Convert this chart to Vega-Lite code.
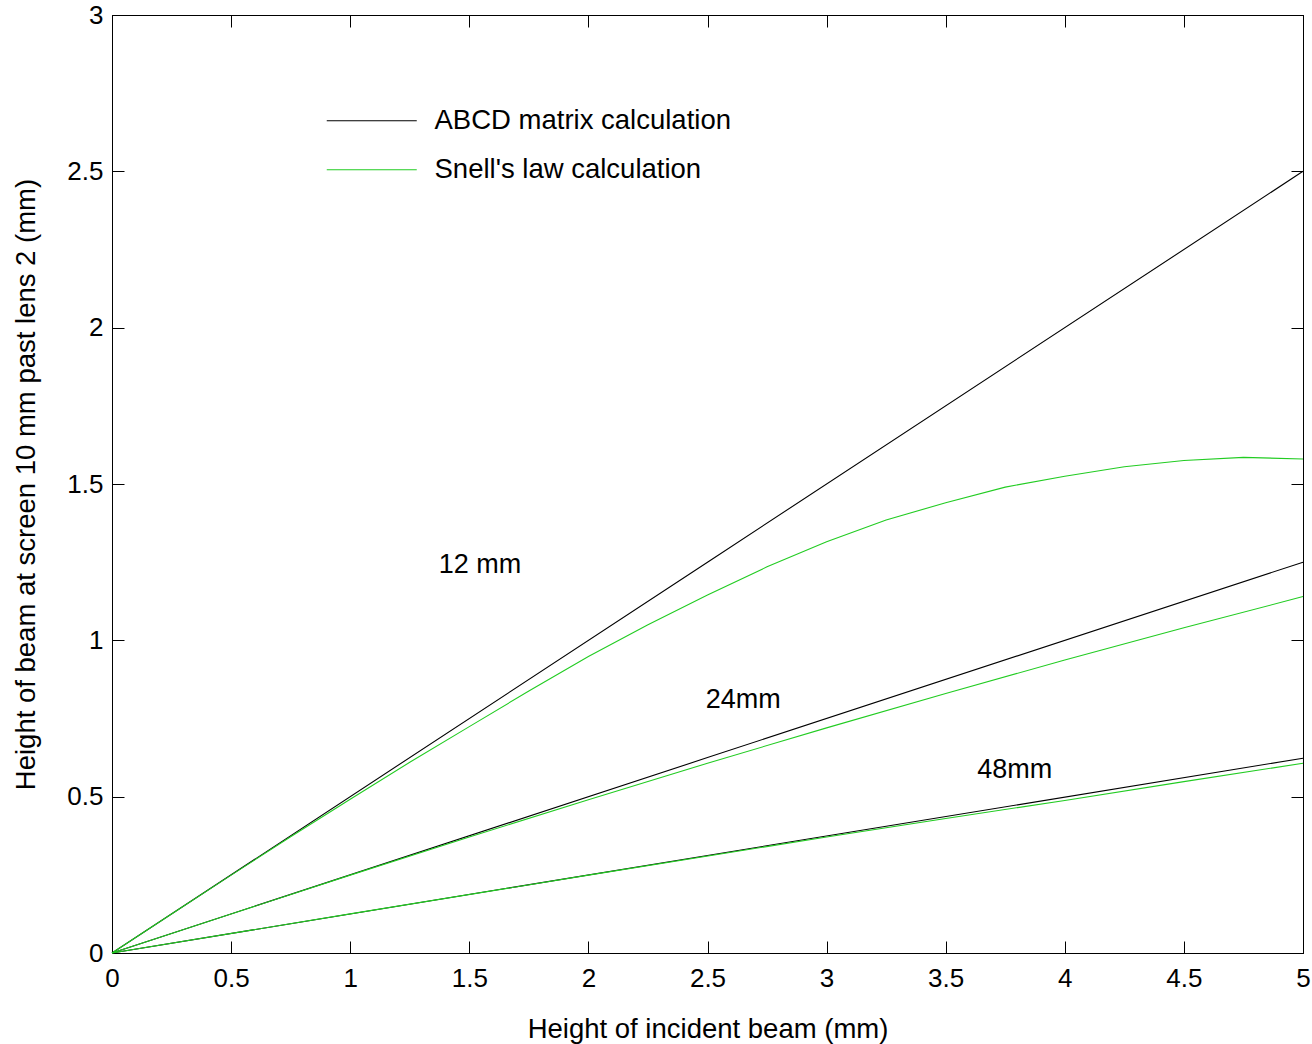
{
  "$schema": "https://vega.github.io/schema/vega-lite/v6.json",
  "autosize": "none",
  "width": 1191,
  "height": 938,
  "padding": {"left": 112, "top": 15, "right": 9, "bottom": 91},
  "background": "white",
  "config": {
    "font": "Liberation Sans",
    "view": {"stroke": "#000", "strokeWidth": 1},
    "axis": {
      "domainColor": "#000",
      "tickColor": "#000",
      "labelColor": "#000",
      "titleColor": "#000",
      "grid": false,
      "labelFont": "Liberation Sans",
      "titleFont": "Liberation Sans",
      "labelFontSize": 26,
      "titleFontSize": 27.5,
      "titleFontWeight": "normal",
      "tickSize": -12,
      "labelFlush": false,
      "labelOverlap": false,
      "format": "~g"
    },
    "legend": {
      "labelFont": "Liberation Sans",
      "labelFontSize": 27.5,
      "labelColor": "#000",
      "labelLimit": 600
    }
  },
  "datasets": {
    "curves": [
      {"x": 0, "y": 0, "method": "ABCD matrix calculation", "case": "12"},
      {"x": 2.5, "y": 1.25, "method": "ABCD matrix calculation", "case": "12"},
      {"x": 5, "y": 2.5, "method": "ABCD matrix calculation", "case": "12"},
      {"x": 0, "y": 0, "method": "ABCD matrix calculation", "case": "24"},
      {"x": 2.5, "y": 0.625, "method": "ABCD matrix calculation", "case": "24"},
      {"x": 5, "y": 1.25, "method": "ABCD matrix calculation", "case": "24"},
      {"x": 0, "y": 0, "method": "ABCD matrix calculation", "case": "48"},
      {"x": 2.5, "y": 0.312, "method": "ABCD matrix calculation", "case": "48"},
      {"x": 5, "y": 0.623, "method": "ABCD matrix calculation", "case": "48"},
      {"x": 0, "y": 0, "method": "Snell's law calculation", "case": "12"},
      {"x": 0.25, "y": 0.125, "method": "Snell's law calculation", "case": "12"},
      {"x": 0.5, "y": 0.249, "method": "Snell's law calculation", "case": "12"},
      {"x": 0.75, "y": 0.372, "method": "Snell's law calculation", "case": "12"},
      {"x": 1, "y": 0.492, "method": "Snell's law calculation", "case": "12"},
      {"x": 1.25, "y": 0.61, "method": "Snell's law calculation", "case": "12"},
      {"x": 1.5, "y": 0.724, "method": "Snell's law calculation", "case": "12"},
      {"x": 1.75, "y": 0.838, "method": "Snell's law calculation", "case": "12"},
      {"x": 2, "y": 0.948, "method": "Snell's law calculation", "case": "12"},
      {"x": 2.25, "y": 1.05, "method": "Snell's law calculation", "case": "12"},
      {"x": 2.5, "y": 1.145, "method": "Snell's law calculation", "case": "12"},
      {"x": 2.75, "y": 1.235, "method": "Snell's law calculation", "case": "12"},
      {"x": 3, "y": 1.315, "method": "Snell's law calculation", "case": "12"},
      {"x": 3.25, "y": 1.385, "method": "Snell's law calculation", "case": "12"},
      {"x": 3.5, "y": 1.44, "method": "Snell's law calculation", "case": "12"},
      {"x": 3.75, "y": 1.49, "method": "Snell's law calculation", "case": "12"},
      {"x": 4, "y": 1.525, "method": "Snell's law calculation", "case": "12"},
      {"x": 4.25, "y": 1.555, "method": "Snell's law calculation", "case": "12"},
      {"x": 4.5, "y": 1.575, "method": "Snell's law calculation", "case": "12"},
      {"x": 4.75, "y": 1.585, "method": "Snell's law calculation", "case": "12"},
      {"x": 5, "y": 1.58, "method": "Snell's law calculation", "case": "12"},
      {"x": 0, "y": 0, "method": "Snell's law calculation", "case": "24"},
      {"x": 0.5, "y": 0.125, "method": "Snell's law calculation", "case": "24"},
      {"x": 1, "y": 0.249, "method": "Snell's law calculation", "case": "24"},
      {"x": 1.5, "y": 0.371, "method": "Snell's law calculation", "case": "24"},
      {"x": 2, "y": 0.49, "method": "Snell's law calculation", "case": "24"},
      {"x": 2.5, "y": 0.607, "method": "Snell's law calculation", "case": "24"},
      {"x": 3, "y": 0.72, "method": "Snell's law calculation", "case": "24"},
      {"x": 3.5, "y": 0.83, "method": "Snell's law calculation", "case": "24"},
      {"x": 4, "y": 0.937, "method": "Snell's law calculation", "case": "24"},
      {"x": 4.5, "y": 1.04, "method": "Snell's law calculation", "case": "24"},
      {"x": 5, "y": 1.14, "method": "Snell's law calculation", "case": "24"},
      {"x": 0, "y": 0, "method": "Snell's law calculation", "case": "48"},
      {"x": 1, "y": 0.125, "method": "Snell's law calculation", "case": "48"},
      {"x": 2, "y": 0.249, "method": "Snell's law calculation", "case": "48"},
      {"x": 3, "y": 0.371, "method": "Snell's law calculation", "case": "48"},
      {"x": 3.5, "y": 0.43, "method": "Snell's law calculation", "case": "48"},
      {"x": 4, "y": 0.488, "method": "Snell's law calculation", "case": "48"},
      {"x": 4.5, "y": 0.548, "method": "Snell's law calculation", "case": "48"},
      {"x": 5, "y": 0.607, "method": "Snell's law calculation", "case": "48"}
    ],
    "labels": [
      {"x": 1.545, "y": 1.24, "label": "12 mm"},
      {"x": 2.65, "y": 0.81, "label": "24mm"},
      {"x": 3.79, "y": 0.585, "label": "48mm"}
    ]
  },
  "layer": [
    {
      "data": {"name": "curves"},
      "mark": {"type": "line", "strokeWidth": 1.1},
      "encoding": {
        "x": {
          "field": "x", "type": "quantitative",
          "scale": {"domain": [0, 5], "nice": false, "zero": false},
          "axis": {"orient": "bottom", "values": [0, 0.5, 1, 1.5, 2, 2.5, 3, 3.5, 4, 4.5, 5], "labelPadding": 24, "title": "Height of incident beam (mm)", "titlePadding": 24}
        },
        "y": {
          "field": "y", "type": "quantitative",
          "scale": {"domain": [0, 3], "nice": false, "zero": false},
          "axis": {"orient": "left", "values": [0, 0.5, 1, 1.5, 2, 2.5, 3], "labelPadding": 21, "title": "Height of beam at screen 10 mm past lens 2 (mm)", "titlePadding": 26}
        },
        "color": {
          "field": "method", "type": "nominal",
          "scale": {"domain": ["ABCD matrix calculation", "Snell's law calculation"], "range": ["#000000", "#22cc22"]},
          "legend": {
            "title": null,
            "orient": "none",
            "legendX": 281,
            "legendY": 92,
            "padding": 0,
            "symbolType": "M-8,0L1,0",
            "symbolSize": 400,
            "symbolStrokeWidth": 1.1,
            "labelOffset": 14,
            "rowPadding": 20
          }
        },
        "detail": {"field": "case"}
      }
    },
    {
      "data": {"name": "labels"},
      "mark": {"type": "text", "fontSize": 27, "font": "Liberation Sans", "color": "#000", "align": "center", "baseline": "middle"},
      "encoding": {
        "x": {"field": "x", "type": "quantitative", "axis": {"orient": "top", "values": [0, 0.5, 1, 1.5, 2, 2.5, 3, 3.5, 4, 4.5, 5], "labels": false, "title": null}},
        "y": {"field": "y", "type": "quantitative", "axis": {"orient": "right", "values": [0, 0.5, 1, 1.5, 2, 2.5, 3], "labels": false, "title": null}},
        "text": {"field": "label"}
      }
    }
  ],
  "resolve": {"axis": {"x": "independent", "y": "independent"}}
}
